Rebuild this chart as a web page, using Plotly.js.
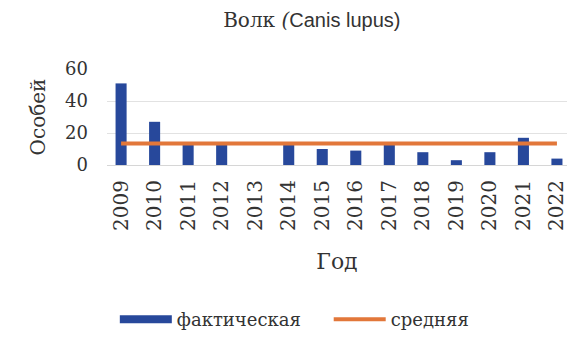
<!DOCTYPE html>
<html><head><meta charset="utf-8">
<script src="https://cdn.plot.ly/plotly-3.0.1.min.js"></script>
<style>html,body{margin:0;padding:0;background:#fff}</style>
</head><body>
<div id="chart" style="width:569px;height:341px"></div>
<script>
var years = ['2009','2010','2011','2012','2013','2014','2015','2016','2017','2018','2019','2020','2021','2022'];
var actual = [51, 27, 13, 13, 0, 13, 10, 9, 13, 8, 3, 8, 17, 4];
var average = [13.5, 13.5, 13.5, 13.5, 13.5, 13.5, 13.5, 13.5, 13.5, 13.5, 13.5, 13.5, 13.5, 13.5];
var yTicks = [0, 20, 40, 60];
var seriesNames = ['фактическая', 'средняя'];

var serif = 'DejaVu Serif, Liberation Serif, serif';
var blue = '#27489b';
var orange = '#e2773a';
var txt = '#333333';
function sf(s) { return '<span style="font-family:DejaVu Serif, serif">' + s + '</span>'; }

var traces = [
  {type:'bar', x: years, y: actual, name: seriesNames[0], marker:{color: blue}, showlegend:false},
  {type:'scatter', mode:'lines', x:[null], y:[null], name: sf(seriesNames[0]) + '\u00a0\u00a0\u00a0\u00a0', line:{color: blue, width:8}},
  {type:'scatter', mode:'lines', x: years, y: average, name: sf(seriesNames[1]), line:{color: orange, width:4}}
];

var layout = {
  width:569, height:341,
  margin:{l:107, r:2, t:69, b:172},
  paper_bgcolor:'#fff', plot_bgcolor:'#fff',
  font:{family: serif, color: txt, size:17},
  title:{text: sf('Волк <i>(</i>') + '<span style="font-family:Liberation Sans, sans-serif">Canis lupus)</span>', x:0.548, xanchor:'center', y:0.94, yanchor:'middle', font:{size:20, color: txt, family: serif}},
  bargap:0.67,
  xaxis:{type:'category', range:[-0.42, 13.3], tickangle:-90, showgrid:false, showline:false, ticks:'', ticklabelstandoff:10,
    tickfont:{size:20, family: serif, color: txt},
    title:{text:'Год', font:{size:22, family: serif, color: txt}, standoff:23}},
  yaxis:{range:[0, 60], tickvals: yTicks, showgrid:true, gridcolor:'#e2e2e2', gridwidth:1, zeroline:true, zerolinecolor:'#d6d6d6', showline:false, ticks:'', ticklabelstandoff:18,
    tickfont:{size:18, family: serif, color: txt},
    title:{text:'Особей', font:{size:20, family: serif, color: txt}, standoff:14}},
  legend:{orientation:'h', x:0.017, xanchor:'left', y:-1.61, yanchor:'middle', font:{size:18, family: serif, color: txt}, itemwidth:52, tracegroupgap:0}
};

var config = {displayModeBar:false, staticPlot:true};
Plotly.newPlot('chart', traces, layout, config).then(function(){
  if (document.fonts && document.fonts.ready) {
    document.fonts.ready.then(function(){ Plotly.react('chart', traces, layout, config); });
  }
});
</script>
</body></html>
